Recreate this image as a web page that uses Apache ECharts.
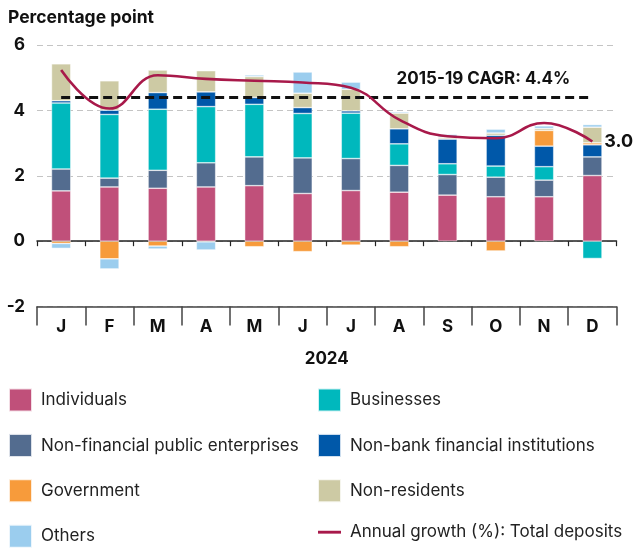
<!DOCTYPE html>
<html>
<head>
<meta charset="utf-8">
<style>
html,body{margin:0;padding:0;background:#fff;}
#chart{width:634px;height:548px;}
</style>
<script src="https://cdn.jsdelivr.net/npm/echarts@6/dist/echarts.min.js"></script>
</head>
<body>
<div id="chart"></div>
<script>
var months = ['J','F','M','A','M','J','J','A','S','O','N','D'];
var yTicks = [-2, 0, 2, 4, 6];
var individuals   = [1.54, 1.66, 1.62, 1.66, 1.70, 1.46, 1.55, 1.50, 1.41, 1.36, 1.36, 2.01];
var nfpe          = [0.67, 0.27, 0.55, 0.74, 0.88, 1.09, 0.98, 0.82, 0.63, 0.60, 0.51, 0.57];
var businesses    = [2.02, 1.95, 1.87, 1.72, 1.61, 1.36, 1.39, 0.66, 0.33, 0.34, 0.41, -0.53];
var nbfi          = [0.07, 0.13, 0.51, 0.45, 0.21, 0.18, 0.07, 0.46, 0.76, 0.94, 0.63, 0.37];
var government    = [-0.07, -0.54, -0.15, -0.02, -0.17, -0.32, -0.12, -0.17, 0.00, -0.30, 0.48, 0.06];
var nonResidents  = [1.13, 0.90, 0.69, 0.65, 0.64, 0.44, 0.66, 0.48, 0.05, 0.07, 0.06, 0.48];
var others        = [-0.15, -0.31, -0.09, -0.25, 0.05, 0.65, 0.22, 0.04, 0.09, 0.12, 0.08, 0.08];
var annualGrowth  = [5.24, 4.06, 5.08, 4.97, 4.91, 4.86, 4.70, 3.72, 3.21, 3.15, 3.62, 3.05];
var endLabelText  = '3.0';
var cagr = 4.4;

var FONT = 'Inter, "Noto Sans", sans-serif';
var chart = echarts.init(document.getElementById('chart'), null, {renderer: 'canvas'});

function barSeries(name, data, color) {
  return {
    name: name, type: 'bar', stack: 'total', data: data, barWidth: '40%',
    xAxisIndex: 0, yAxisIndex: 0,
    itemStyle: {color: color, borderColor: 'rgba(255,255,255,0.8)', borderWidth: 0.6},
    emphasis: {disabled: true}
  };
}

var series = [
  barSeries('Individuals', individuals, '#c0507a'),
  barSeries('Non-financial public enterprises', nfpe, '#536c8f'),
  barSeries('Businesses', businesses, '#00b8bd'),
  barSeries('Non-bank financial institutions', nbfi, '#0058a9'),
  barSeries('Government', government, '#f79b3b'),
  barSeries('Non-residents', nonResidents, '#cdcaa4'),
  barSeries('Others', others, '#9bcdee'),
  {
    name: 'Annual growth (%): Total deposits', type: 'line', data: annualGrowth,
    xAxisIndex: 0, yAxisIndex: 0,
    smooth: 0.45, symbol: 'none', showSymbol: false,
    lineStyle: {color: '#a8194a', width: 2.6},
    itemStyle: {color: '#a8194a'},
    endLabel: {show: true, formatter: endLabelText,
      fontFamily: FONT, fontWeight: 700, fontSize: 18, color: '#111', distance: 12},
    markLine: {
      silent: true, symbol: 'none',
      lineStyle: {color: '#111', type: [9, 5], width: 3},
      label: {show: true, position: 'insideEndTop', formatter: '2015-19 CAGR: ' + cagr + '%',
        fontFamily: FONT, fontWeight: 700, fontSize: 17, color: '#111', distance: [22, 10]},
      data: [[{coord: [0, cagr]}, {coord: [11, cagr]}]]
    },
    z: 5
  }
];

var legendText = {fontFamily: FONT, fontSize: 17, color: '#222', padding: [0, 0, 0, 4]};
chart.setOption({
  animation: false,
  backgroundColor: '#fff',
  title: {text: 'Percentage point', left: 8, top: 9, padding: 0,
    textStyle: {fontFamily: FONT, fontWeight: 700, fontSize: 17.5, color: '#111'}},
  grid: {left: 37, right: 17.5, top: 45.2, bottom: 241.5, containLabel: false},
  legend: [
    {data: ['Individuals', 'Non-financial public enterprises', 'Government', 'Others'],
     orient: 'vertical', left: 8, top: 387.5, height: 170, itemWidth: 23, itemHeight: 23, itemGap: 20.4,
     icon: 'rect', textStyle: legendText, selectedMode: false, padding: 0},
    {data: ['Businesses', 'Non-bank financial institutions', 'Non-residents',
            {name: 'Annual growth (%): Total deposits', icon: 'path://M0,0 L24,0 L24,3 L0,3 Z'}],
     orient: 'vertical', left: 317, top: 387.5, height: 170, itemWidth: 23, itemHeight: 23, itemGap: 20.4,
     icon: 'rect', textStyle: legendText, selectedMode: false, padding: 0}
  ],
  xAxis: [
    {type: 'category', data: months, position: 'bottom',
     axisLine: {onZero: true, lineStyle: {color: '#222', width: 1.5}},
     axisTick: {show: true, length: 5, lineStyle: {color: '#222', width: 1.2}},
     axisLabel: {show: false}, splitLine: {show: false}},
    {type: 'category', data: months, position: 'bottom',
     axisLine: {onZero: false, lineStyle: {color: '#444', width: 1.5}},
     axisTick: {show: true, length: 19, lineStyle: {color: '#444', width: 1.5}},
     axisLabel: {show: true, margin: 12, fontFamily: FONT, fontWeight: 700, fontSize: 17, color: '#111'},
     name: '2024', nameLocation: 'middle', nameGap: 44,
     nameTextStyle: {fontFamily: FONT, fontWeight: 700, fontSize: 17, color: '#111'}}
  ],
  yAxis: {
    type: 'value', min: yTicks[0], max: yTicks[yTicks.length - 1], interval: 2,
    axisLine: {show: false}, axisTick: {show: false},
    axisLabel: {margin: 12, fontFamily: FONT, fontWeight: 700, fontSize: 17, color: '#111'},
    splitLine: {show: true, lineStyle: {color: '#c4c4c4', type: [6, 4], width: 1}}
  },
  series: series
});
</script>
</body>
</html>
